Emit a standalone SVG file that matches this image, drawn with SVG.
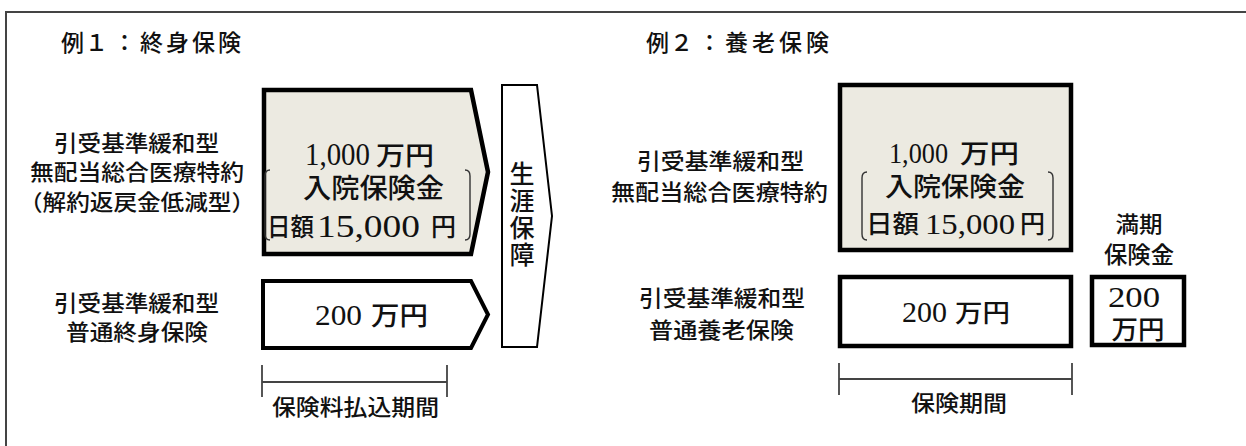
<svg xmlns="http://www.w3.org/2000/svg" width="1246" height="446" viewBox="0 0 1246 446">
<style>
  .g { font-family: "Noto Sans CJK JP", "Noto Sans", sans-serif; font-weight: 500; fill: #111; }
  .s { font-family: "Liberation Serif", "Noto Sans CJK JP", serif; fill: #111; }
  .lbl { font-size: 22px; }
  .ttl { font-size: 23px; }
  .box { stroke: #000; stroke-linejoin: miter; }
  .gray { fill: #ECEAE1; }
  .white { fill: #fff; }
  .brk { fill: none; stroke: #333; stroke-width: 1.4; }
  .dim { stroke: #444; stroke-width: 1.8; fill: none; }
</style>
<rect width="1246" height="446" fill="#fff"/>
<rect id="frame" x="6" y="12" width="1300" height="500" fill="none" stroke="#444" stroke-width="2"/>

<g id="ex1-title"><text class="g ttl" x="61 85 113 140 166 192 218" y="51">例１：終身保険</text></g>

<g id="ex1-label-rider">
  <text class="g lbl" x="54" y="151" textLength="165" lengthAdjust="spacingAndGlyphs">引受基準緩和型</text>
  <text class="g lbl" x="30" y="180" textLength="214" lengthAdjust="spacingAndGlyphs">無配当総合医療特約</text>
  <text class="g lbl" x="19" y="210" textLength="236" lengthAdjust="spacingAndGlyphs">（解約返戻金低減型）</text>
</g>
<g id="ex1-label-base">
  <text class="g lbl" x="54" y="311" textLength="165" lengthAdjust="spacingAndGlyphs">引受基準緩和型</text>
  <text class="g lbl" x="66" y="340" textLength="142" lengthAdjust="spacingAndGlyphs">普通終身保険</text>
</g>

<g id="ex1-rider">
  <path class="box gray" stroke-width="4.5" d="M264,90 L471,90 L488,172 L471,254 L264,254 Z"/>
  <text class="s" font-size="31" x="305" y="165" textLength="65" lengthAdjust="spacingAndGlyphs">1,000</text>
  <text class="g" font-size="26" x="376" y="165" textLength="58" lengthAdjust="spacingAndGlyphs">万円</text>
  <path class="brk" d="M270,170 Q265,170 265,176 L265,234 Q265,240 270,240"/>
  <path class="brk" d="M465,170 Q470,170 470,176 L470,234 Q470,240 465,240"/>
  <text class="g" font-size="27" x="303" y="198" textLength="141" lengthAdjust="spacingAndGlyphs">入院保険金</text>
  <text class="g" font-size="25" x="267" y="236" textLength="47" lengthAdjust="spacingAndGlyphs">日額</text>
  <text class="s" font-size="31" x="317" y="237" textLength="103" lengthAdjust="spacingAndGlyphs">15,000</text>
  <text class="g" font-size="25" x="431" y="236">円</text>
</g>

<g id="ex1-base">
  <path class="box white" stroke-width="4" d="M263,281 L471,281 L488,314.5 L471,348 L263,348 Z"/>
  <text class="s" font-size="30" x="315" y="325" textLength="47" lengthAdjust="spacingAndGlyphs">200</text>
  <text class="g" font-size="26" x="371" y="325" textLength="57" lengthAdjust="spacingAndGlyphs">万円</text>
</g>

<g id="ex1-lifetime">
  <path class="box white" stroke-width="2" d="M502,85 L537,85 L552,216 L537,347 L502,347 Z"/>
  <text class="g" font-size="25" writing-mode="vertical-rl" letter-spacing="2" x="522" y="161">生涯保障</text>
</g>

<g id="ex2-title"><text class="g ttl" x="646 670 698 725 752 779 806" y="51">例２：養老保険</text></g>

<g id="ex2-label-rider">
  <text class="g lbl" x="637" y="169" textLength="167" lengthAdjust="spacingAndGlyphs">引受基準緩和型</text>
  <text class="g lbl" x="611" y="200" textLength="217" lengthAdjust="spacingAndGlyphs">無配当総合医療特約</text>
</g>
<g id="ex2-label-base">
  <text class="g lbl" x="639" y="306" textLength="166" lengthAdjust="spacingAndGlyphs">引受基準緩和型</text>
  <text class="g lbl" x="649" y="338" textLength="145" lengthAdjust="spacingAndGlyphs">普通養老保険</text>
</g>

<g id="ex2-rider">
  <rect class="box gray" stroke-width="4.5" x="840" y="85" width="231" height="165"/>
  <text class="s" font-size="29" x="889" y="163" textLength="59" lengthAdjust="spacingAndGlyphs">1,000</text>
  <text class="g" font-size="26" x="960" y="163" textLength="59" lengthAdjust="spacingAndGlyphs">万円</text>
  <path class="brk" d="M867,172 Q862,172 862,178 L862,234 Q862,240 867,240"/>
  <path class="brk" d="M1048,172 Q1053,172 1053,178 L1053,234 Q1053,240 1048,240"/>
  <text class="g" font-size="26" x="885" y="196" textLength="140" lengthAdjust="spacingAndGlyphs">入院保険金</text>
  <text class="g" font-size="25" x="866" y="233" textLength="53" lengthAdjust="spacingAndGlyphs">日額</text>
  <text class="s" font-size="29" x="925" y="234" textLength="90" lengthAdjust="spacingAndGlyphs">15,000</text>
  <text class="g" font-size="25" x="1020" y="233">円</text>
</g>

<g id="ex2-base">
  <rect class="box white" stroke-width="4.5" x="840" y="277" width="231" height="69"/>
  <text class="s" font-size="29" x="902" y="322" textLength="45" lengthAdjust="spacingAndGlyphs">200</text>
  <text class="g" font-size="25" x="955" y="322" textLength="55" lengthAdjust="spacingAndGlyphs">万円</text>
</g>

<g id="ex2-maturity">
  <text class="g lbl" text-anchor="middle" x="1139" y="232" textLength="47" lengthAdjust="spacingAndGlyphs">満期</text>
  <text class="g" font-size="23" text-anchor="middle" x="1139" y="263" textLength="70" lengthAdjust="spacingAndGlyphs">保険金</text>
  <rect class="box white" stroke-width="4.5" x="1092" y="277" width="92" height="68"/>
  <text class="s" font-size="29" text-anchor="middle" x="1134" y="307" textLength="52" lengthAdjust="spacingAndGlyphs">200</text>
  <text class="g" font-size="26" text-anchor="middle" x="1138" y="339" textLength="53" lengthAdjust="spacingAndGlyphs">万円</text>
</g>

<g id="connectors">
  <g id="ex1-period">
    <path class="dim" d="M262,365 L262,397 M447,365 L447,397 M262,382 L447,382"/>
    <text class="g lbl" x="272" y="415" textLength="167" lengthAdjust="spacingAndGlyphs">保険料払込期間</text>
  </g>
  <g id="ex2-period">
    <path class="dim" d="M839,363 L839,395 M1072,363 L1072,395 M839,379 L1072,379"/>
    <text class="g lbl" x="911" y="411" textLength="96" lengthAdjust="spacingAndGlyphs">保険期間</text>
  </g>
</g>
</svg>
